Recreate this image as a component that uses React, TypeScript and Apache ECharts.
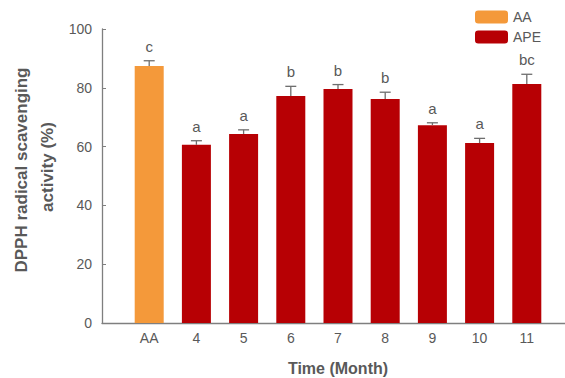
import React, { useEffect, useRef } from "react";
import * as echarts from "echarts";

const categories = ["", "AA", "4", "5", "6", "7", "8", "9", "10", "11", ""];
const aaValues = ["-", 87.4, "-", "-", "-", "-", "-", "-", "-", "-", "-"];
const apeValues = ["-", "-", 60.6, 64.3, 77.2, 79.6, 76.2, 67.3, 61.2, 81.3, "-"];
const means = [null, 87.4, 60.6, 64.3, 77.2, 79.6, 76.2, 67.3, 61.2, 81.3, null];
const errors = [null, 1.8, 1.4, 1.4, 3.3, 1.5, 2.3, 0.8, 1.6, 3.3, null];
const letters = ["", "c", "a", "a", "b", "b", "b", "a", "a", "bc", ""];
const yTicks = [0, 20, 40, 60, 80, 100];

const FONT = "Liberation Sans";
const GREY = "#595959";

export default function App() {
  const ref = useRef<HTMLDivElement>(null);
  useEffect(() => {
    if (!ref.current) return;
    const chart = echarts.init(ref.current, undefined, { renderer: "svg" });
    const errData = means
      .map((m, i) => (m == null ? null : [i, m, errors[i], letters[i]]))
      .filter((d) => d != null);
    chart.setOption({
      animation: false,
      textStyle: { fontFamily: FONT },
      grid: { left: 102, top: 29, right: -9, bottom: 55, containLabel: false, outerBoundsMode: "none" },
      legend: {
        orient: "vertical",
        left: 475,
        top: 10,
        padding: 0,
        itemWidth: 33,
        itemHeight: 13,
        itemGap: 6,
        textStyle: { fontSize: 14, color: GREY, fontFamily: FONT },
        data: ["AA", "APE"],
      },
      xAxis: {
        type: "category",
        data: categories,
        boundaryGap: false,
        name: "Time (Month)",
        nameLocation: "middle",
        nameGap: 37,
        nameTextStyle: { fontSize: 16, fontWeight: "bold", color: GREY, fontFamily: FONT },
        axisLine: { lineStyle: { color: "#7f7f7f", width: 1.3 } },
        axisTick: {
          inside: true,
          length: 4,
          lineStyle: { color: "#7f7f7f" },
          interval: (i: number) => i > 0 && i < categories.length - 1,
        },
        axisLabel: { fontSize: 14, color: GREY, margin: 8, fontFamily: FONT, interval: 0 },
        splitLine: { show: false },
      },
      yAxis: {
        type: "value",
        min: yTicks[0],
        max: yTicks[yTicks.length - 1],
        interval: 20,
        axisLine: { show: true, lineStyle: { color: "#7f7f7f", width: 1.3 } },
        axisTick: { show: true, inside: true, length: 4, lineStyle: { color: "#7f7f7f" } },
        axisLabel: { fontSize: 14, color: GREY, margin: 10, fontFamily: FONT },
        splitLine: { show: false },
      },
      graphic: [
        {
          type: "text",
          x: 21,
          y: 170,
          rotation: Math.PI / 2,
          style: {
            text: "DPPH radical scavenging",
            fontSize: 17,
            fontWeight: "bold",
            fill: GREY,
            fontFamily: FONT,
            align: "center",
            verticalAlign: "middle",
          },
        },
        {
          type: "text",
          x: 47,
          y: 167,
          rotation: Math.PI / 2,
          style: {
            text: "activity (%)",
            fontSize: 17,
            fontWeight: "bold",
            fill: GREY,
            fontFamily: FONT,
            align: "center",
            verticalAlign: "middle",
          },
        },
      ],
      series: [
        {
          name: "AA",
          type: "bar",
          data: aaValues,
          barWidth: 29,
          barGap: "-100%",
          itemStyle: { color: "#F4993A" },
        },
        {
          name: "APE",
          type: "bar",
          data: apeValues,
          barWidth: 29,
          itemStyle: { color: "#B70004" },
        },
        {
          type: "custom",
          name: "err",
          data: errData,
          z: 10,
          renderItem: (params: any, api: any) => {
            const x = api.value(0);
            const m = api.value(1);
            const e = api.value(2);
            const lt = letters[x];
            const top = api.coord([x, m + e]);
            const base = api.coord([x, m]);
            const half = 5.5;
            const style = { stroke: "#6e6e6e", lineWidth: 1.3 };
            return {
              type: "group",
              children: [
                { type: "line", shape: { x1: top[0], y1: top[1], x2: base[0], y2: base[1] }, style },
                { type: "line", shape: { x1: top[0] - half, y1: top[1], x2: top[0] + half, y2: top[1] }, style },
                {
                  type: "text",
                  x: top[0],
                  y: top[1] - 7,
                  style: {
                    text: lt,
                    fontSize: 15,
                    fill: GREY,
                    fontFamily: FONT,
                    align: "center",
                    verticalAlign: "bottom",
                  },
                },
              ],
            };
          },
        },
      ],
    });
    return () => chart.dispose();
  }, []);
  return <div ref={ref} style={{ width: 565, height: 378, position: "absolute", left: 0, top: 0 }} />;
}
